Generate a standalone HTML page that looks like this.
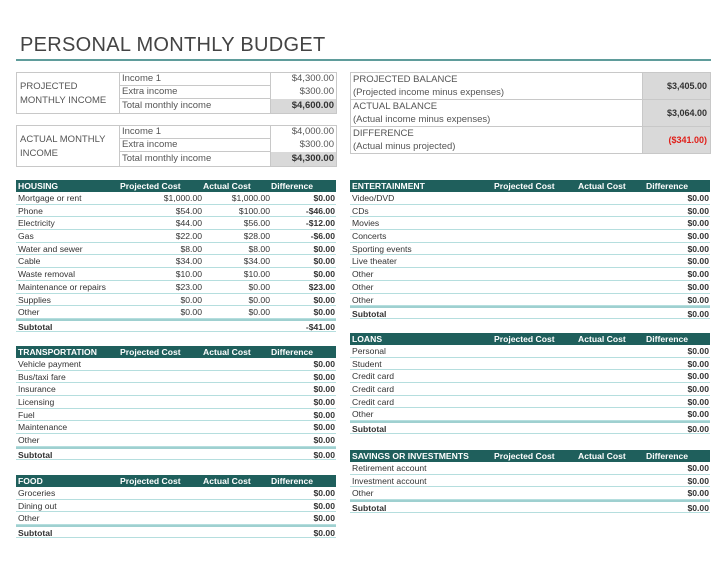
<!DOCTYPE html>
<html><head><meta charset="utf-8"><style>
*{margin:0;padding:0;box-sizing:border-box}
body{width:728px;height:561px;background:#fff;font-family:"Liberation Sans",sans-serif;color:#333;position:relative;overflow:hidden}
.title{position:absolute;left:20px;top:34px;font-size:20px;color:#444;letter-spacing:0.3px}
.rule{position:absolute;left:16px;top:59px;width:695px;height:2px;background:#5f9c9b}
.box{position:absolute;border:1px solid #c8c8c8;font-size:9.5px;color:#555}
.t{position:absolute;font-size:8.6px}
.t .h{background:#1f5f5c;color:#fff;font-weight:bold;height:12px;line-height:12px;display:flex}
.t .r{height:12.7px;line-height:12.3px;border-bottom:1px solid #b5dede;display:flex}
.t .s{font-weight:bold;border-top:2px solid #9fd0d0}
.t .c0{flex:1;padding-left:2px}
.t .c1,.t .c2,.t .c3{text-align:right;padding-right:1px}
.t .h .c1,.t .h .c2,.t .h .c3{text-align:left}
.t .c3{font-weight:bold}
</style></head><body>
<div class="title">PERSONAL MONTHLY BUDGET</div>
<div class="rule"></div>

<div class="box" style="left:16px;top:72px;width:321px;height:42px">
 <div style="position:absolute;left:3px;top:7px;line-height:14px">PROJECTED<br>MONTHLY INCOME</div>
 <div style="position:absolute;left:102px;top:0;width:152px;height:40px;border-left:1px solid #c8c8c8;border-right:1px solid #c8c8c8">
  <div style="height:13px;border-bottom:1px solid #c8c8c8;padding-left:2px;line-height:12px">Income 1</div>
  <div style="height:13px;border-bottom:1px solid #c8c8c8;padding-left:2px;line-height:12px">Extra income</div>
  <div style="height:14px;padding-left:2px;line-height:13px">Total monthly income</div></div>
 <div style="position:absolute;left:254px;top:0;width:65px;text-align:right">
  <div style="height:13px;line-height:12px;padding-right:2px">$4,300.00</div>
  <div style="height:13px;line-height:12px;padding-right:2px">$300.00</div>
  <div style="height:14px;line-height:13px;padding-right:2px;background:#d9d9d9;font-weight:bold;color:#333">$4,600.00</div></div>
</div>
<div class="box" style="left:16px;top:125px;width:321px;height:42px">
 <div style="position:absolute;left:3px;top:7px;line-height:14px">ACTUAL MONTHLY<br>INCOME</div>
 <div style="position:absolute;left:102px;top:0;width:152px;height:40px;border-left:1px solid #c8c8c8;border-right:1px solid #c8c8c8">
  <div style="height:13px;border-bottom:1px solid #c8c8c8;padding-left:2px;line-height:12px">Income 1</div>
  <div style="height:13px;border-bottom:1px solid #c8c8c8;padding-left:2px;line-height:12px">Extra income</div>
  <div style="height:14px;padding-left:2px;line-height:13px">Total monthly income</div></div>
 <div style="position:absolute;left:254px;top:0;width:65px;text-align:right">
  <div style="height:13px;line-height:12px;padding-right:2px">$4,000.00</div>
  <div style="height:13px;line-height:12px;padding-right:2px">$300.00</div>
  <div style="height:14px;line-height:13px;padding-right:2px;background:#d9d9d9;font-weight:bold;color:#333">$4,300.00</div></div>
</div>
<div class="box" style="left:350px;top:72px;width:361px;height:82px">
 <div style="position:absolute;left:0;top:0;width:292px;border-right:1px solid #c8c8c8;height:80px">
  <div style="height:27px;border-bottom:1px solid #c8c8c8;padding-left:2px;line-height:13px">PROJECTED BALANCE<br>(Projected income minus expenses)</div>
  <div style="height:27px;border-bottom:1px solid #c8c8c8;padding-left:2px;line-height:13px">ACTUAL BALANCE<br>(Actual income minus expenses)</div>
  <div style="height:26px;padding-left:2px;line-height:13px">DIFFERENCE<br>(Actual minus projected)</div></div>
 <div style="position:absolute;left:292px;top:0;width:67px;height:80px;background:#d9d9d9;text-align:right;font-weight:bold;color:#333;font-size:9px">
  <div style="height:27px;line-height:27px;padding-right:3px;border-bottom:1px solid #c8c8c8">$3,405.00</div>
  <div style="height:27px;line-height:27px;padding-right:3px;border-bottom:1px solid #c8c8c8">$3,064.00</div>
  <div style="height:26px;line-height:26px;padding-right:3px;color:#e0201a">($341.00)</div></div>
</div>

<div class="t" style="left:16px;top:180px;width:320px">
 <div class="h"><span class="c0">HOUSING</span><span class="c1" style="width:83px">Projected Cost</span><span class="c2" style="width:68px">Actual Cost</span><span class="c3" style="width:65px">Difference</span></div>
 <div class="r"><span class="c0">Mortgage or rent</span><span class="c1" style="width:83px">$1,000.00</span><span class="c2" style="width:68px">$1,000.00</span><span class="c3" style="width:65px">$0.00</span></div>
 <div class="r"><span class="c0">Phone</span><span class="c1" style="width:83px">$54.00</span><span class="c2" style="width:68px">$100.00</span><span class="c3" style="width:65px">-$46.00</span></div>
 <div class="r"><span class="c0">Electricity</span><span class="c1" style="width:83px">$44.00</span><span class="c2" style="width:68px">$56.00</span><span class="c3" style="width:65px">-$12.00</span></div>
 <div class="r"><span class="c0">Gas</span><span class="c1" style="width:83px">$22.00</span><span class="c2" style="width:68px">$28.00</span><span class="c3" style="width:65px">-$6.00</span></div>
 <div class="r"><span class="c0">Water and sewer</span><span class="c1" style="width:83px">$8.00</span><span class="c2" style="width:68px">$8.00</span><span class="c3" style="width:65px">$0.00</span></div>
 <div class="r"><span class="c0">Cable</span><span class="c1" style="width:83px">$34.00</span><span class="c2" style="width:68px">$34.00</span><span class="c3" style="width:65px">$0.00</span></div>
 <div class="r"><span class="c0">Waste removal</span><span class="c1" style="width:83px">$10.00</span><span class="c2" style="width:68px">$10.00</span><span class="c3" style="width:65px">$0.00</span></div>
 <div class="r"><span class="c0">Maintenance or repairs</span><span class="c1" style="width:83px">$23.00</span><span class="c2" style="width:68px">$0.00</span><span class="c3" style="width:65px">$23.00</span></div>
 <div class="r"><span class="c0">Supplies</span><span class="c1" style="width:83px">$0.00</span><span class="c2" style="width:68px">$0.00</span><span class="c3" style="width:65px">$0.00</span></div>
 <div class="r"><span class="c0">Other</span><span class="c1" style="width:83px">$0.00</span><span class="c2" style="width:68px">$0.00</span><span class="c3" style="width:65px">$0.00</span></div>
 <div class="r s"><span class="c0">Subtotal</span><span class="c3" style="width:65px">-$41.00</span></div>
</div>

<div class="t" style="left:16px;top:346px;width:320px">
 <div class="h"><span class="c0">TRANSPORTATION</span><span class="c1" style="width:83px">Projected Cost</span><span class="c2" style="width:68px">Actual Cost</span><span class="c3" style="width:65px">Difference</span></div>
 <div class="r"><span class="c0">Vehicle payment</span><span class="c3">$0.00</span></div>
 <div class="r"><span class="c0">Bus/taxi fare</span><span class="c3">$0.00</span></div>
 <div class="r"><span class="c0">Insurance</span><span class="c3">$0.00</span></div>
 <div class="r"><span class="c0">Licensing</span><span class="c3">$0.00</span></div>
 <div class="r"><span class="c0">Fuel</span><span class="c3">$0.00</span></div>
 <div class="r"><span class="c0">Maintenance</span><span class="c3">$0.00</span></div>
 <div class="r"><span class="c0">Other</span><span class="c3">$0.00</span></div>
 <div class="r s"><span class="c0">Subtotal</span><span class="c3">$0.00</span></div>
</div>

<div class="t" style="left:16px;top:475px;width:320px">
 <div class="h"><span class="c0">FOOD</span><span class="c1" style="width:83px">Projected Cost</span><span class="c2" style="width:68px">Actual Cost</span><span class="c3" style="width:65px">Difference</span></div>
 <div class="r"><span class="c0">Groceries</span><span class="c3">$0.00</span></div>
 <div class="r"><span class="c0">Dining out</span><span class="c3">$0.00</span></div>
 <div class="r"><span class="c0">Other</span><span class="c3">$0.00</span></div>
 <div class="r s"><span class="c0">Subtotal</span><span class="c3">$0.00</span></div>
</div>

<div class="t" style="left:350px;top:180px;width:360px">
 <div class="h"><span class="c0">ENTERTAINMENT</span><span class="c1" style="width:84px">Projected Cost</span><span class="c2" style="width:68px">Actual Cost</span><span class="c3" style="width:64px">Difference</span></div>
 <div class="r"><span class="c0">Video/DVD</span><span class="c3">$0.00</span></div>
 <div class="r"><span class="c0">CDs</span><span class="c3">$0.00</span></div>
 <div class="r"><span class="c0">Movies</span><span class="c3">$0.00</span></div>
 <div class="r"><span class="c0">Concerts</span><span class="c3">$0.00</span></div>
 <div class="r"><span class="c0">Sporting events</span><span class="c3">$0.00</span></div>
 <div class="r"><span class="c0">Live theater</span><span class="c3">$0.00</span></div>
 <div class="r"><span class="c0">Other</span><span class="c3">$0.00</span></div>
 <div class="r"><span class="c0">Other</span><span class="c3">$0.00</span></div>
 <div class="r"><span class="c0">Other</span><span class="c3">$0.00</span></div>
 <div class="r s"><span class="c0">Subtotal</span><span class="c3">$0.00</span></div>
</div>

<div class="t" style="left:350px;top:333px;width:360px">
 <div class="h"><span class="c0">LOANS</span><span class="c1" style="width:84px">Projected Cost</span><span class="c2" style="width:68px">Actual Cost</span><span class="c3" style="width:64px">Difference</span></div>
 <div class="r"><span class="c0">Personal</span><span class="c3">$0.00</span></div>
 <div class="r"><span class="c0">Student</span><span class="c3">$0.00</span></div>
 <div class="r"><span class="c0">Credit card</span><span class="c3">$0.00</span></div>
 <div class="r"><span class="c0">Credit card</span><span class="c3">$0.00</span></div>
 <div class="r"><span class="c0">Credit card</span><span class="c3">$0.00</span></div>
 <div class="r"><span class="c0">Other</span><span class="c3">$0.00</span></div>
 <div class="r s"><span class="c0">Subtotal</span><span class="c3">$0.00</span></div>
</div>

<div class="t" style="left:350px;top:450px;width:360px">
 <div class="h"><span class="c0">SAVINGS OR INVESTMENTS</span><span class="c1" style="width:84px">Projected Cost</span><span class="c2" style="width:68px">Actual Cost</span><span class="c3" style="width:64px">Difference</span></div>
 <div class="r"><span class="c0">Retirement account</span><span class="c3">$0.00</span></div>
 <div class="r"><span class="c0">Investment account</span><span class="c3">$0.00</span></div>
 <div class="r"><span class="c0">Other</span><span class="c3">$0.00</span></div>
 <div class="r s"><span class="c0">Subtotal</span><span class="c3">$0.00</span></div>
</div>
</body></html>
